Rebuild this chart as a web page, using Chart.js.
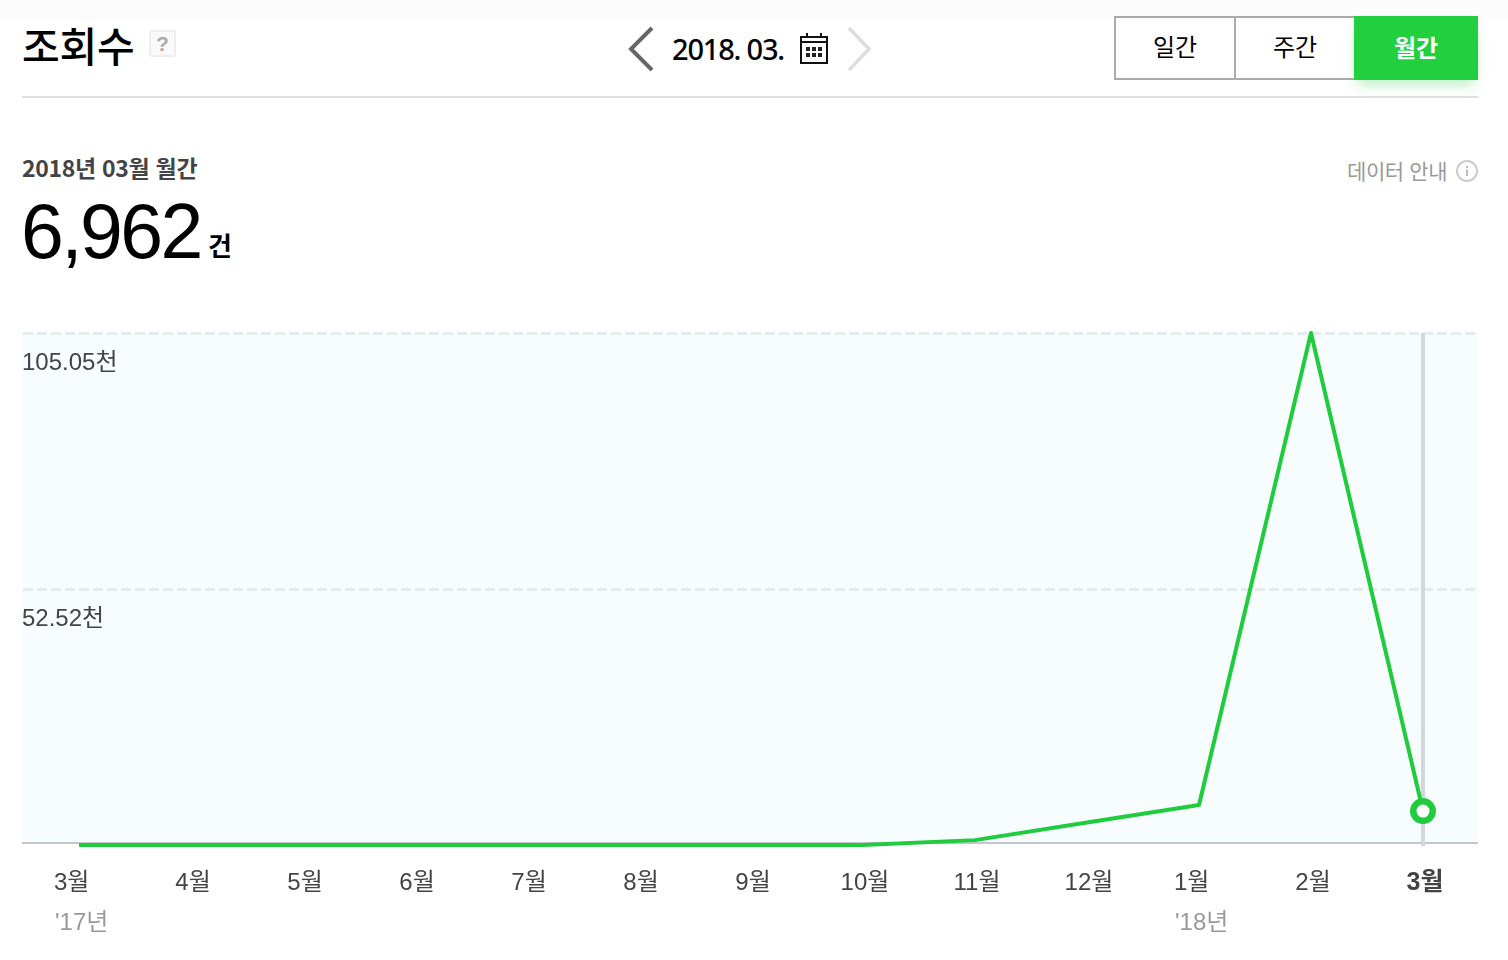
<!DOCTYPE html>
<html lang="ko">
<head>
<meta charset="utf-8">
<title>조회수</title>
<script src="https://cdn.jsdelivr.net/npm/chart.js@4"></script>
<style>
html,body{margin:0;padding:0;background:#fff;}
body{width:1508px;height:960px;position:relative;overflow:hidden;font-family:"Liberation Sans","Noto Sans CJK KR",sans-serif;}
.abs{position:absolute;white-space:nowrap;}
#topband{left:0;top:0;width:1508px;height:20px;background:#fcfcfc;}
#title{left:22px;top:17px;font:500 41px/54px "Noto Sans CJK KR",sans-serif;color:#000;letter-spacing:-.2px;}
#help{left:149px;top:30px;width:23px;height:23px;border:2px solid #eee;border-radius:3px;background:#fafafa;color:#aaa;font:bold 21px/23px "Liberation Sans",sans-serif;text-align:center;}
#rule{left:22px;top:96px;width:1456px;height:2px;background:#e0e0e0;}
#date{left:672px;top:29px;font:500 29px/40px "Noto Sans",sans-serif;color:#000;letter-spacing:-1.2px;}
.btn{top:16px;height:60px;border:2px solid #aaa;background:#fff;text-align:center;font:400 24px/55px "Noto Sans CJK KR",sans-serif;color:#000;}
#b1{left:1114px;width:118px;}
#b2{left:1236px;width:118px;border-left:0;}
#b3{left:1354px;top:16px;width:124px;height:64px;background:#22cf3f;color:#fff;text-align:center;font:700 24px/62px "Noto Sans CJK KR",sans-serif;box-shadow:0 8px 14px -4px rgba(34,207,63,.35);}
#period{left:22px;top:151px;font:700 23px/32px "Noto Sans CJK KR","Liberation Sans",sans-serif;color:#444;letter-spacing:-.3px;}
#total{left:21px;top:186px;font:400 77px/90px "Liberation Sans",sans-serif;color:#000;letter-spacing:-2.6px;}
#unit{left:208px;top:228px;font:700 26px/34px "Noto Sans CJK KR",sans-serif;color:#000;}
#guide{left:1347px;top:154px;font:400 21px/32px "Noto Sans CJK KR",sans-serif;color:#999;letter-spacing:-.4px;}
#chartBox{left:0;top:300px;width:1508px;height:660px;}
#viewChart{display:block;}
</style>
</head>
<body>
<div class="abs" id="topband"></div>
<div class="abs" id="title">조회수</div>
<div class="abs" id="help">?</div>
<svg class="abs" style="left:625px;top:24px" width="250" height="50" viewBox="0 0 250 50">
  <path d="M27 4 L6 25 L27 46" fill="none" stroke="#666" stroke-width="4"/>
  <path d="M224 4 L244 25 L224 46" fill="none" stroke="#ddd" stroke-width="3.5"/>
</svg>
<div class="abs" id="date">2018. 03.</div>
<svg class="abs" style="left:800px;top:32px" width="29" height="32" viewBox="0 0 29 32">
  <rect x="1" y="5" width="26" height="26" fill="none" stroke="#111" stroke-width="2"/>
  <path d="M1 10H27M7 1V6M21 1V6" stroke="#111" stroke-width="2" fill="none"/>
  <path d="M6 15h4v4h-4zM12 15h4v4h-4zM18 15h4v4h-4zM6 21h4v4h-4zM12 21h4v4h-4zM18 21h4v4h-4z" fill="#222"/>
</svg>
<div class="abs btn" id="b1">일간</div>
<div class="abs btn" id="b2">주간</div>
<div class="abs" id="b3">월간</div>
<div class="abs" id="rule"></div>
<div class="abs" id="period">2018년 03월 월간</div>
<div class="abs" id="total">6,962</div>
<div class="abs" id="unit">건</div>
<div class="abs" id="guide">데이터 안내</div>
<svg class="abs" style="left:1456px;top:160px" width="22" height="22" viewBox="0 0 22 22">
  <circle cx="11" cy="11" r="10" fill="none" stroke="#ccc" stroke-width="2"/>
  <path d="M11 9.5V16M11 6V8" stroke="#bbb" stroke-width="2"/>
</svg>
<div class="abs" id="chartBox"><canvas id="viewChart" width="1508" height="660"></canvas></div>

<script>
const monthLabels = ['3월','4월','5월','6월','7월','8월','9월','10월','11월','12월','1월','2월','3월']
const yearLabels = ["'17년",'','','','','','','','','',"'18년",'','']
const viewCounts = [0,0,0,0,0,0,0,0,1000,4600,8200,105050,6962]
const yTickValues = [0,52525,105050]
const yTickLabels = ['','52.52천','105.05천']

const lineGreen = '#20cc3e'
const labelFont = '"Liberation Sans","Noto Sans CJK KR",sans-serif'

// background, baseline, selected month marker
const backdrop = {
    id: 'backdrop',
    beforeDraw(chart) {
        const {ctx, chartArea: a} = chart
        ctx.save()
        ctx.fillStyle = '#f7fcff'
        ctx.fillRect(a.left - 1, a.top, a.right - a.left, a.bottom - a.top - 2)
        ctx.fillStyle = '#c1c7cd'
        ctx.fillRect(a.left - 1, a.bottom - 3, a.right - a.left, 2)
        ctx.restore()
    },
    beforeDatasetsDraw(chart) {
        const {ctx, chartArea: a, scales} = chart
        const x = scales.x.getPixelForValue(monthLabels.length - 1)
        ctx.save()
        ctx.fillStyle = '#d3d7dc'
        ctx.fillRect(x - 2, a.top, 4, a.bottom - a.top + 1)
        ctx.restore()
    }
}

// month + year labels under the axis, labels with a year are left aligned blocks
const monthAxisLabels = {
    id: 'monthAxisLabels',
    afterDraw(chart) {
        const {ctx, scales} = chart
        const last = monthLabels.length - 1
        ctx.save()
        ctx.textBaseline = 'middle'
        monthLabels.forEach((m, i) => {
            const x = scales.x.getPixelForValue(i)
            const base = scales.y.getPixelForValue(0)
            const hasYear = yearLabels[i] !== ''
            ctx.fillStyle = '#444'
            ctx.font = (i === last ? 'bold 25px ' : '24px ') + labelFont
            ctx.textAlign = hasYear ? 'left' : 'center'
            ctx.fillText(m, hasYear ? x - 25 : x + 2, base + 38)
            if (hasYear) {
                ctx.fillStyle = '#999'
                ctx.font = '24px ' + labelFont
                ctx.fillText(yearLabels[i], x - 24, base + 78)
            }
        })
        ctx.restore()
    }
}

new Chart(document.getElementById('viewChart'), {
    type: 'line',
    data: {
        labels: monthLabels,
        datasets: [{
            data: viewCounts,
            borderColor: lineGreen,
            borderWidth: 4,
            borderJoinStyle: 'round',
            tension: 0,
            clip: false,
            fill: false,
            pointRadius: ctx => ctx.dataIndex === viewCounts.length - 1 ? 9.75 : 0,
            pointBorderWidth: 6.5,
            pointBorderColor: lineGreen,
            pointBackgroundColor: '#fff'
        }]
    },
    options: {
        responsive: false,
        animation: false,
        devicePixelRatio: 1,
        layout: {padding: {left: 23, right: 29, top: 33, bottom: 115}},
        plugins: {legend: {display: false}, tooltip: {enabled: false}},
        scales: {
            x: {
                offset: true,
                border: {display: false},
                grid: {display: false},
                ticks: {display: false},
                afterFit: s => { s.height = 0 }
            },
            y: {
                min: 0,
                max: 105050,
                afterFit: s => { s.width = 0 },
                afterBuildTicks: s => { s.ticks = yTickValues.map(v => ({value: v})) },
                grid: {
                    drawTicks: false,
                    lineWidth: 3,
                    color: c => c.tick.value === 0 ? 'transparent' : '#e6ebf0'
                },
                border: {display: false, dash: [10, 4]},
                ticks: {
                    mirror: true,
                    padding: -1,
                    labelOffset: 30,
                    color: '#444',
                    font: {family: labelFont, size: 24},
                    callback: v => yTickLabels[yTickValues.indexOf(v)]
                }
            }
        }
    },
    plugins: [backdrop, monthAxisLabels]
})
</script>
</body>
</html>
